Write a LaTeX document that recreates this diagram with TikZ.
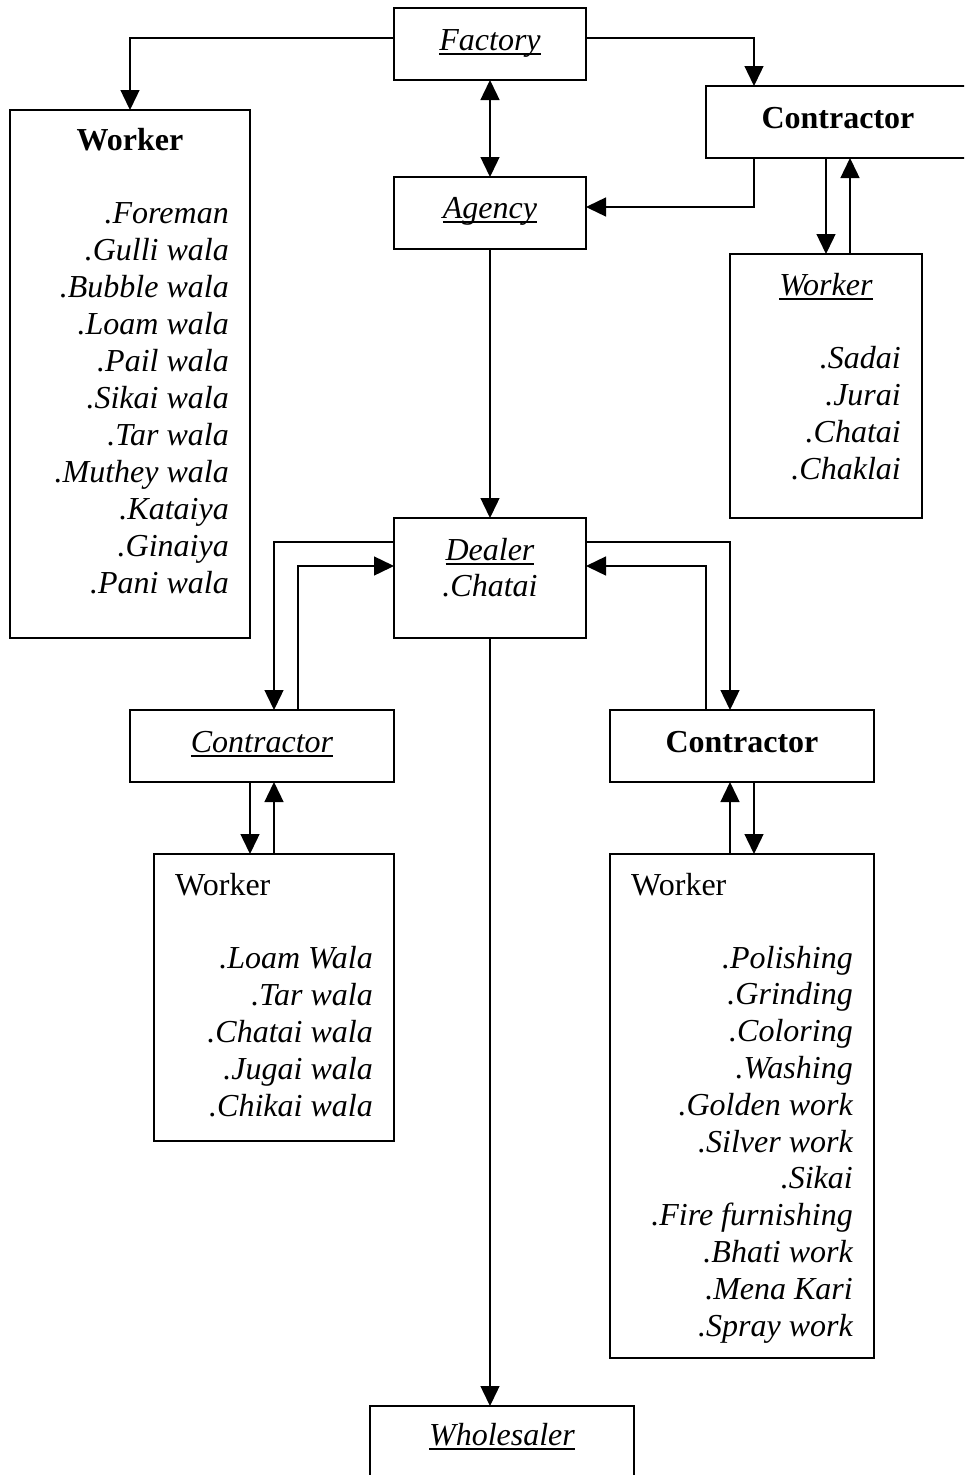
\documentclass[tikz,border=0pt]{standalone}
\usepackage{fontspec}
\setmainfont{Liberation Serif}
\usetikzlibrary{arrows.meta}
\newcommand\undl[1]{\setbox0\hbox{#1}\leavevmode\rlap{\rule[-5pt]{\wd0}{1.8pt}}\box0}
\begin{document}
\begin{tikzpicture}[x=1pt,y=-1pt,
  box/.style={draw, line width=1.4pt, inner sep=0pt, outer sep=0pt},
  lbl/.style={inner sep=0pt, font=\fontsize{32}{37}\selectfont},
  ital/.style={inner sep=0pt, font=\fontsize{32}{37}\selectfont\itshape},
  bld/.style={inner sep=0pt, font=\fontsize{32}{37}\selectfont\bfseries},
  conn/.style={line width=1.4pt, -{Triangle[length=20pt,width=19pt]}},
  dconn/.style={line width=1.4pt, {Triangle[length=20pt,width=19pt]}-{Triangle[length=20pt,width=19pt]}}]
\useasboundingbox (0,0) rectangle (964,1475);
\clip (0,0) rectangle (964,1475);

% boxes
\node[box, minimum width=192pt, minimum height=72pt] (factory) at (490,44) {};
\node[box, minimum width=240pt, minimum height=528pt] (wl) at (130,374) {};
\node[box, minimum width=270pt, minimum height=72pt] (ct) at (841,122) {};
\node[box, minimum width=192pt, minimum height=72pt] (agency) at (490,213) {};
\node[box, minimum width=192pt, minimum height=264pt] (wtr) at (826,386) {};
\node[box, minimum width=192pt, minimum height=120pt] (dealer) at (490,578) {};
\node[box, minimum width=264pt, minimum height=72pt] (cl) at (262,746) {};
\node[box, minimum width=264pt, minimum height=72pt] (cr) at (742,746) {};
\node[box, minimum width=240pt, minimum height=287pt] (wlb) at (274,997.5) {};
\node[box, minimum width=264pt, minimum height=504pt] (wrb) at (742,1106) {};
\node[box, minimum width=264pt, minimum height=80pt] (ws) at (502,1446) {};

% texts
\node[ital, anchor=base] (tfactory) at (490,50) {\undl{Factory}};
\node[bld, anchor=base] (twl) at (130,150) {Worker};
\foreach \w [count=\i] in {Foreman, Gulli wala, Bubble wala, Loam wala, Pail wala, Sikai wala, Tar wala, Muthey wala, Kataiya, Ginaiya, Pani wala}
  \node[ital, anchor=base east] (wl\i) at (229,{223+37*(\i-1)}) {.\w};
\node[bld, anchor=base] (tct) at (838,128) {Contractor};
\node[ital, anchor=base] (tagency) at (490,218) {\undl{Agency}};
\node[ital, anchor=base] (twtr) at (826,295) {\undl{Worker}};
\foreach \w [count=\i] in {Sadai, Jurai, Chatai, Chaklai}
  \node[ital, anchor=base east] (wtr\i) at (901,{368+37*(\i-1)}) {.\w};
\node[ital, anchor=base] (tdealer) at (490,560) {\undl{Dealer}};
\node[ital, anchor=base] (tchatai) at (490,596) {.Chatai};
\node[ital, anchor=base] (tcl) at (262,752) {\undl{Contractor}};
\node[bld, anchor=base] (tcr) at (742,752) {Contractor};
\node[lbl, anchor=base west] (twlb) at (175,895) {Worker};
\foreach \w [count=\i] in {Loam Wala, Tar wala, Chatai wala, Jugai wala, Chikai wala}
  \node[ital, anchor=base east] (wlb\i) at (373,{968+37*(\i-1)}) {.\w};
\node[lbl, anchor=base west] (twrb) at (631,895) {Worker};
\foreach \w [count=\i] in {Polishing, Grinding, Coloring, Washing, Golden work, Silver work, Sikai, Fire furnishing, Bhati work, Mena Kari, Spray work}
  \node[ital, anchor=base east] (wrb\i) at (853,{968+36.8*(\i-1)}) {.\w};
\node[ital, anchor=base] (tws) at (502,1445) {\undl{Wholesaler}};

% connectors
\draw[conn] ([yshift=6pt]factory.west) -| (wl.north);
\draw[conn] ([yshift=6pt]factory.east) -| ([xshift=48pt]ct.north west);
\draw[dconn] (factory.south) -- (agency.north);
\draw[conn] ([xshift=48pt]ct.south west) |- ([yshift=6pt]agency.east);
\draw[conn] ([xshift=120pt]ct.south west) -- ([xshift=96pt]wtr.north west);
\draw[conn] ([xshift=120pt]wtr.north west) -- ([xshift=144pt]ct.south west);
\draw[conn] (agency.south) -- (dealer.north);
\draw[conn] ([yshift=36pt]dealer.west) -| ([xshift=144pt]cl.north west);
\draw[conn] ([xshift=168pt]cl.north west) |- ([yshift=12pt]dealer.west);
\draw[conn] ([yshift=36pt]dealer.east) -| ([xshift=120pt]cr.north west);
\draw[conn] ([xshift=96pt]cr.north west) |- ([yshift=12pt]dealer.east);
\draw[conn] ([xshift=120pt]cl.south west) -- ([xshift=96pt]wlb.north west);
\draw[conn] ([xshift=120pt]wlb.north west) -- ([xshift=144pt]cl.south west);
\draw[conn] ([xshift=120pt]wrb.north west) -- ([xshift=120pt]cr.south west);
\draw[conn] ([xshift=144pt]cr.south west) -- ([xshift=144pt]wrb.north west);
\draw[conn] (dealer.south) -- (dealer.south |- ws.north);
\end{tikzpicture}
\end{document}
